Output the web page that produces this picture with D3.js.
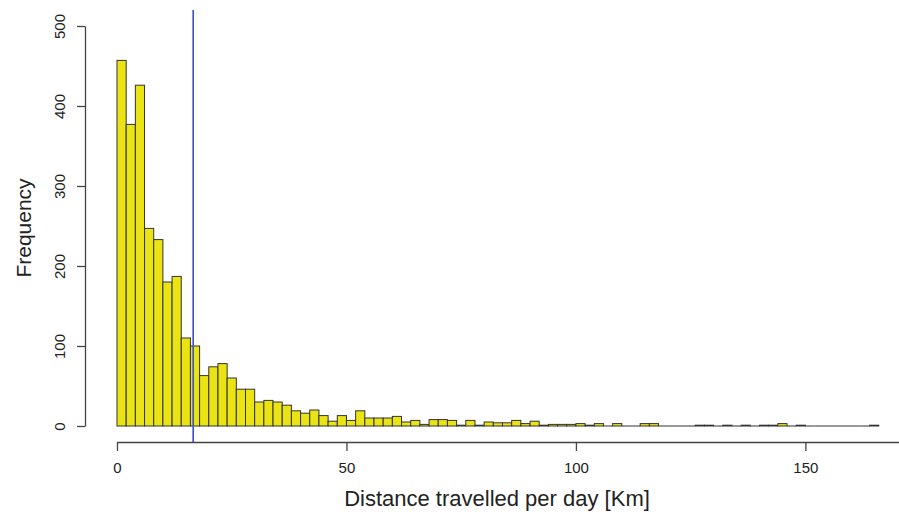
<!DOCTYPE html>
<html lang="en">
<head>
    <meta charset="UTF-8">
    <title>Distance travelled per day</title>
    <script src="https://d3js.org/d3.v7.min.js"></script>
    <style>
        body { margin: 0; background: #fff; }
        svg text { font-family: "Liberation Sans", Arial, sans-serif; fill: #222; }
        .axis path, .axis line { stroke: #444; stroke-width: 1.3; }
    </style>
</head>
<body>
    <div id="chart"></div>
    <script>
        // histogram counts, 2 km bins starting at 0
        const binWidth = 2;
        const counts = [457, 377, 426, 247, 233, 180, 187, 110, 100, 63,
                        74, 78, 60, 46, 46, 30, 32, 30, 26, 19,
                        16, 20, 13, 6, 13, 7, 19, 10, 10, 10,
                        12, 5, 7, 2, 8, 8, 7, 1, 7, 1,
                        5, 4, 4, 7, 3, 6, 1, 2, 2, 2,
                        3, 1, 3, 0, 3, 0, 0, 3, 3, 0,
                        0, 0, 0, 1, 1, 0, 1, 0, 1, 0,
                        1, 1, 3, 0, 1, 0, 0, 0, 0, 0,
                        0, 0, 1];
        const xTicks = [0, 50, 100, 150];
        const yTicks = [0, 100, 200, 300, 400, 500];
        const meanDistance = 16.6;   // blue vertical line

        const width = 899, height = 517;

        const svg = d3.select("#chart").append("svg")
            .attr("width", width)
            .attr("height", height);

        const x = d3.scaleLinear().domain([0, 170.4]).range([117, 899]);
        const y = d3.scaleLinear().domain([0, 500]).range([426, 26]);

        const bins = counts.map((c, i) => ({ x0: i * binWidth, x1: (i + 1) * binWidth, count: c }));

        // bars
        svg.append("g").selectAll("rect")
            .data(bins.filter(d => d.count > 0))
            .enter().append("rect")
            .attr("x", d => x(d.x0))
            .attr("y", d => y(d.count))
            .attr("width", d => x(d.x1) - x(d.x0))
            .attr("height", d => y(0) - y(d.count))
            .attr("fill", "#ebe415")
            .attr("stroke", "#333")
            .attr("stroke-width", 1);

        // empty bins are drawn as flat lines, like R does
        svg.append("g").selectAll("line")
            .data(bins.filter(d => d.count === 0))
            .enter().append("line")
            .attr("x1", d => x(d.x0))
            .attr("x2", d => x(d.x1))
            .attr("y1", y(0)).attr("y2", y(0))
            .attr("stroke", "#333")
            .attr("stroke-width", 1);

        // x axis
        const xAxis = svg.append("g")
            .attr("class", "axis")
            .attr("transform", "translate(0,442)")
            .call(d3.axisBottom(x).tickValues(xTicks).tickSizeOuter(0).tickSizeInner(9).tickPadding(11));
        xAxis.selectAll("text").style("font-size", "15px");

        // y axis
        const yAxis = svg.append("g")
            .attr("class", "axis")
            .attr("transform", "translate(85,0)")
            .call(d3.axisLeft(y).tickValues(yTicks).tickSizeOuter(0).tickSizeInner(8));
        yAxis.selectAll("text")
            .style("font-size", "15px")
            .attr("text-anchor", "middle")
            .attr("x", 0)
            .attr("dy", 0)
            .attr("transform", "translate(-20,0) rotate(-90)");

        // blue line
        svg.append("line")
            .attr("x1", x(meanDistance)).attr("x2", x(meanDistance))
            .attr("y1", 10).attr("y2", 442)
            .attr("stroke", "#3c50c8")
            .attr("stroke-width", 1.6);

        // titles
        svg.append("text")
            .attr("x", 497).attr("y", 506)
            .attr("text-anchor", "middle")
            .style("font-size", "22px")
            .text("Distance travelled per day [Km]");

        svg.append("text")
            .attr("transform", "translate(31,228) rotate(-90)")
            .attr("text-anchor", "middle")
            .style("font-size", "21px")
            .text("Frequency");
    </script>
</body>
</html>
